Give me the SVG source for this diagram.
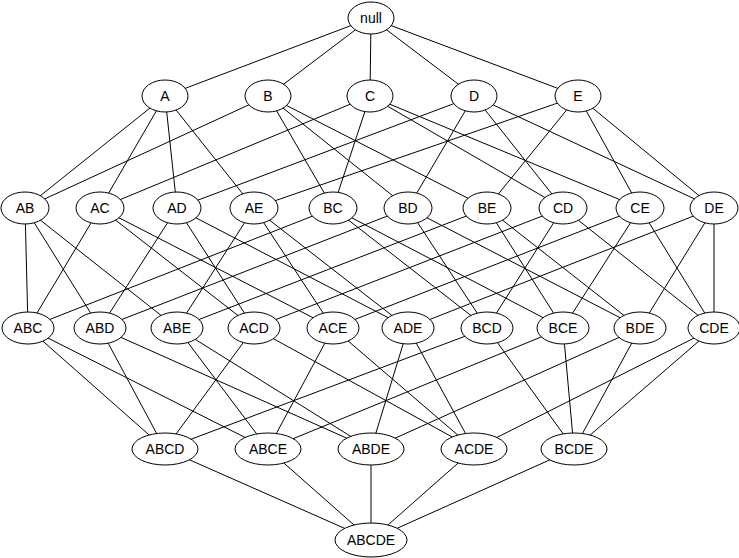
<svg xmlns="http://www.w3.org/2000/svg" width="739" height="558" viewBox="0 0 739 558">
<style>
ellipse{fill:#fff;stroke:#000;stroke-width:1}
line{stroke:#000;stroke-width:1}
text{font-family:"Liberation Sans",Arial,sans-serif;font-size:14px;text-anchor:middle;dominant-baseline:central}
</style>
<rect width="739" height="558" fill="#fff"/>
<g id="connectors">
<line x1="371" y1="18" x2="165" y2="96"/><line x1="371" y1="18" x2="268" y2="96"/><line x1="371" y1="18" x2="370" y2="96"/><line x1="371" y1="18" x2="474" y2="96"/><line x1="371" y1="18" x2="578" y2="96"/>
<line x1="165" y1="96" x2="25" y2="208"/><line x1="165" y1="96" x2="100" y2="208"/><line x1="165" y1="96" x2="177" y2="208"/><line x1="165" y1="96" x2="254" y2="208"/>
<line x1="268" y1="96" x2="25" y2="208"/><line x1="268" y1="96" x2="333" y2="208"/><line x1="268" y1="96" x2="408" y2="208"/><line x1="268" y1="96" x2="487" y2="208"/>
<line x1="370" y1="96" x2="100" y2="208"/><line x1="370" y1="96" x2="333" y2="208"/><line x1="370" y1="96" x2="563" y2="208"/><line x1="370" y1="96" x2="640" y2="208"/>
<line x1="474" y1="96" x2="177" y2="208"/><line x1="474" y1="96" x2="408" y2="208"/><line x1="474" y1="96" x2="563" y2="208"/><line x1="474" y1="96" x2="714" y2="208"/>
<line x1="578" y1="96" x2="254" y2="208"/><line x1="578" y1="96" x2="487" y2="208"/><line x1="578" y1="96" x2="640" y2="208"/><line x1="578" y1="96" x2="714" y2="208"/>
<line x1="25" y1="208" x2="28" y2="328"/><line x1="25" y1="208" x2="100" y2="328"/><line x1="25" y1="208" x2="177" y2="328"/>
<line x1="100" y1="208" x2="28" y2="328"/><line x1="100" y1="208" x2="254" y2="328"/><line x1="100" y1="208" x2="333" y2="328"/>
<line x1="177" y1="208" x2="100" y2="328"/><line x1="177" y1="208" x2="254" y2="328"/><line x1="177" y1="208" x2="408" y2="328"/>
<line x1="254" y1="208" x2="177" y2="328"/><line x1="254" y1="208" x2="333" y2="328"/><line x1="254" y1="208" x2="408" y2="328"/>
<line x1="333" y1="208" x2="28" y2="328"/><line x1="333" y1="208" x2="487" y2="328"/><line x1="333" y1="208" x2="563" y2="328"/>
<line x1="408" y1="208" x2="100" y2="328"/><line x1="408" y1="208" x2="487" y2="328"/><line x1="408" y1="208" x2="640" y2="328"/>
<line x1="487" y1="208" x2="177" y2="328"/><line x1="487" y1="208" x2="563" y2="328"/><line x1="487" y1="208" x2="640" y2="328"/>
<line x1="563" y1="208" x2="254" y2="328"/><line x1="563" y1="208" x2="487" y2="328"/><line x1="563" y1="208" x2="714" y2="328"/>
<line x1="640" y1="208" x2="333" y2="328"/><line x1="640" y1="208" x2="563" y2="328"/><line x1="640" y1="208" x2="714" y2="328"/>
<line x1="714" y1="208" x2="408" y2="328"/><line x1="714" y1="208" x2="640" y2="328"/><line x1="714" y1="208" x2="714" y2="328"/>
<line x1="28" y1="328" x2="165" y2="449"/><line x1="28" y1="328" x2="268" y2="449"/>
<line x1="100" y1="328" x2="165" y2="449"/><line x1="100" y1="328" x2="371" y2="449"/>
<line x1="177" y1="328" x2="268" y2="449"/><line x1="177" y1="328" x2="371" y2="449"/>
<line x1="254" y1="328" x2="165" y2="449"/><line x1="254" y1="328" x2="474" y2="449"/>
<line x1="333" y1="328" x2="268" y2="449"/><line x1="333" y1="328" x2="474" y2="449"/>
<line x1="408" y1="328" x2="371" y2="449"/><line x1="408" y1="328" x2="474" y2="449"/>
<line x1="487" y1="328" x2="165" y2="449"/><line x1="487" y1="328" x2="574" y2="449"/>
<line x1="563" y1="328" x2="268" y2="449"/><line x1="563" y1="328" x2="574" y2="449"/>
<line x1="640" y1="328" x2="371" y2="449"/><line x1="640" y1="328" x2="574" y2="449"/>
<line x1="714" y1="328" x2="474" y2="449"/><line x1="714" y1="328" x2="574" y2="449"/>
<line x1="165" y1="449" x2="371" y2="540"/><line x1="268" y1="449" x2="371" y2="540"/><line x1="371" y1="449" x2="371" y2="540"/><line x1="474" y1="449" x2="371" y2="540"/><line x1="574" y1="449" x2="371" y2="540"/>
</g>
<g id="null"><ellipse cx="371" cy="18" rx="23" ry="16"/><text x="371" y="18">null</text></g>
<g id="A"><ellipse cx="165" cy="96" rx="23" ry="16"/><text x="165" y="96">A</text></g>
<g id="B"><ellipse cx="268" cy="96" rx="23" ry="16"/><text x="268" y="96">B</text></g>
<g id="C"><ellipse cx="370" cy="96" rx="23" ry="16"/><text x="370" y="96">C</text></g>
<g id="D"><ellipse cx="474" cy="96" rx="23" ry="16"/><text x="474" y="96">D</text></g>
<g id="E"><ellipse cx="578" cy="96" rx="23" ry="16"/><text x="578" y="96">E</text></g>
<g id="AB"><ellipse cx="25" cy="208" rx="24" ry="16"/><text x="25" y="208">AB</text></g>
<g id="AC"><ellipse cx="100" cy="208" rx="24" ry="16"/><text x="100" y="208">AC</text></g>
<g id="AD"><ellipse cx="177" cy="208" rx="24" ry="16"/><text x="177" y="208">AD</text></g>
<g id="AE"><ellipse cx="254" cy="208" rx="24" ry="16"/><text x="254" y="208">AE</text></g>
<g id="BC"><ellipse cx="333" cy="208" rx="24" ry="16"/><text x="333" y="208">BC</text></g>
<g id="BD"><ellipse cx="408" cy="208" rx="24" ry="16"/><text x="408" y="208">BD</text></g>
<g id="BE"><ellipse cx="487" cy="208" rx="24" ry="16"/><text x="487" y="208">BE</text></g>
<g id="CD"><ellipse cx="563" cy="208" rx="24" ry="16"/><text x="563" y="208">CD</text></g>
<g id="CE"><ellipse cx="640" cy="208" rx="24" ry="16"/><text x="640" y="208">CE</text></g>
<g id="DE"><ellipse cx="714" cy="208" rx="24" ry="16"/><text x="714" y="208">DE</text></g>
<g id="ABC"><ellipse cx="28" cy="328" rx="26" ry="16"/><text x="28" y="328">ABC</text></g>
<g id="ABD"><ellipse cx="100" cy="328" rx="26" ry="16"/><text x="100" y="328">ABD</text></g>
<g id="ABE"><ellipse cx="177" cy="328" rx="26" ry="16"/><text x="177" y="328">ABE</text></g>
<g id="ACD"><ellipse cx="254" cy="328" rx="26" ry="16"/><text x="254" y="328">ACD</text></g>
<g id="ACE"><ellipse cx="333" cy="328" rx="26" ry="16"/><text x="333" y="328">ACE</text></g>
<g id="ADE"><ellipse cx="408" cy="328" rx="26" ry="16"/><text x="408" y="328">ADE</text></g>
<g id="BCD"><ellipse cx="487" cy="328" rx="26" ry="16"/><text x="487" y="328">BCD</text></g>
<g id="BCE"><ellipse cx="563" cy="328" rx="26" ry="16"/><text x="563" y="328">BCE</text></g>
<g id="BDE"><ellipse cx="640" cy="328" rx="26" ry="16"/><text x="640" y="328">BDE</text></g>
<g id="CDE"><ellipse cx="714" cy="328" rx="26" ry="16"/><text x="714" y="328">CDE</text></g>
<g id="ABCD"><ellipse cx="165" cy="449" rx="33" ry="16"/><text x="165" y="449">ABCD</text></g>
<g id="ABCE"><ellipse cx="268" cy="449" rx="33" ry="16"/><text x="268" y="449">ABCE</text></g>
<g id="ABDE"><ellipse cx="371" cy="449" rx="33" ry="16"/><text x="371" y="449">ABDE</text></g>
<g id="ACDE"><ellipse cx="474" cy="449" rx="33" ry="16"/><text x="474" y="449">ACDE</text></g>
<g id="BCDE"><ellipse cx="574" cy="449" rx="33" ry="16"/><text x="574" y="449">BCDE</text></g>
<g id="ABCDE"><ellipse cx="371" cy="540" rx="36" ry="17"/><text x="371" y="540">ABCDE</text></g>
</svg>
